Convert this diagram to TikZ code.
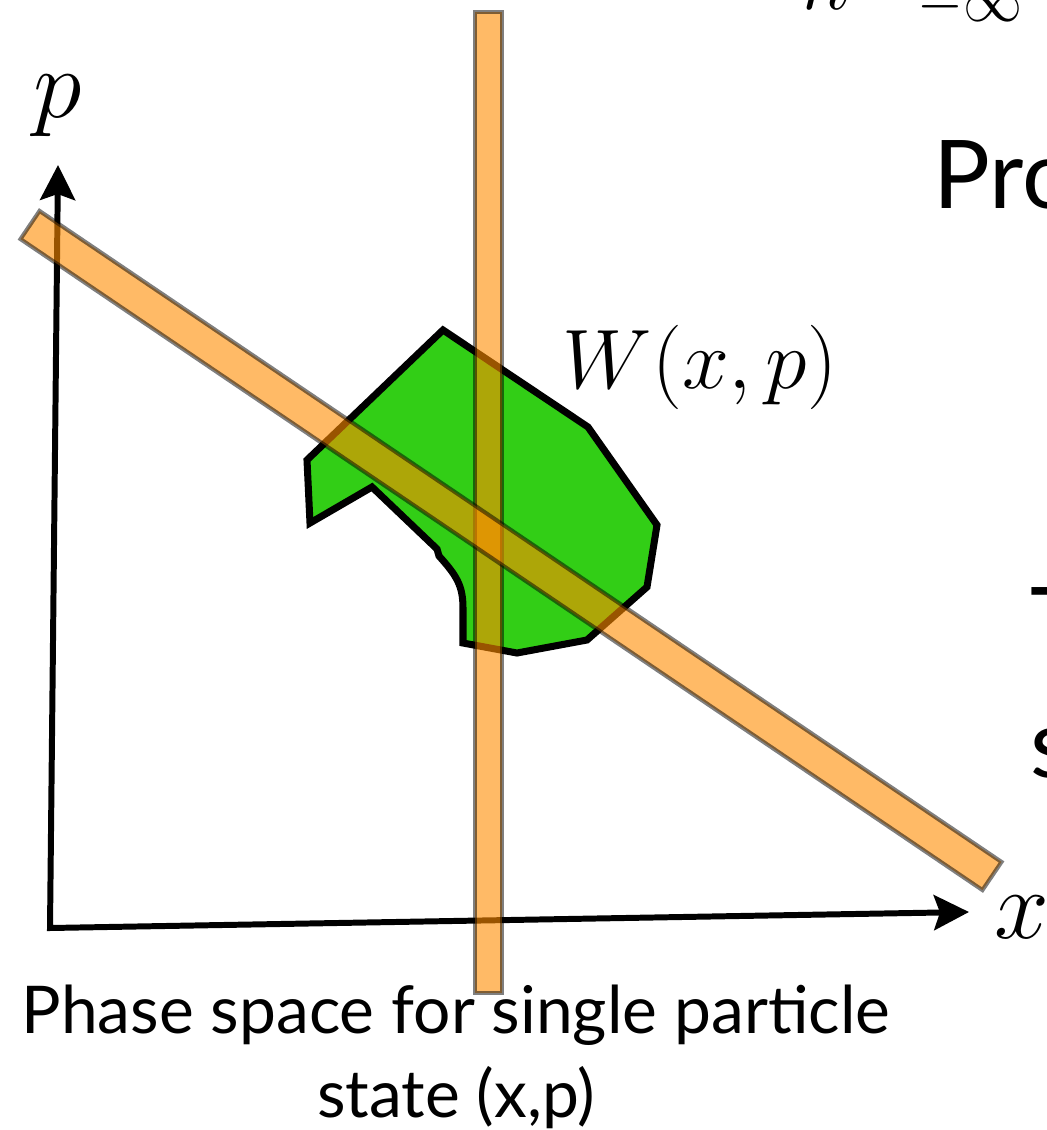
\RequirePackage{fix-cm}
\documentclass[tikz,border=0pt]{standalone}
\usepackage{fontspec}
\setmainfont{Lato}
\usepackage{xcolor}
\definecolor{blobGreen}{RGB}{50, 206, 22}
\definecolor{bandOrange}{RGB}{255, 140, 0}
\usetikzlibrary{arrows.meta, calc}
\tikzset{
    axis/.style={line width=3.4pt, {Stealth[length=0.7cm, width=0.7cm, inset=0.12cm]}-{Stealth[length=0.7cm, width=0.7cm, inset=0.12cm]}},
    band/.style={fill=bandOrange, fill opacity=0.6, draw=black, draw opacity=0.5, line width=2.3pt},
    blob/.style={fill=blobGreen, draw=black, line width=4pt},
    axisLabel/.style={inner sep=0pt, font=\fontsize{56}{60}\selectfont},
    mathLabel/.style={inner sep=0pt, font=\fontsize{48}{52}\selectfont},
    slideText/.style={inner sep=0pt, anchor=base west, font=\fontsize{54}{60}\selectfont},
    caption/.style={inner sep=0pt, anchor=base, font=\fontsize{37.5}{44}\selectfont}
}

\begin{document}
\begin{tikzpicture}[x=0.02cm, y=-0.02cm]
    \useasboundingbox (0,0) rectangle (1047,1130);
    \clip (0,0) rectangle (1047,1130);

    % --- WIGNER FUNCTION ---
    \draw[blob] (443,330) -- (588,427) -- (657,525) -- (647,587) -- (587,640) -- (517,653)
        -- (463,643) -- (463,608) .. controls (463,585) and (456,575) .. (439,556)
        -- (437,549) -- (372,487) -- (310,523) -- (307,460) -- cycle;
    \node[mathLabel] (wLabel) at (700,367) {$W(x,p)$};

    % --- AXES ---
    \coordinate (origin) at (50,928);
    \coordinate (pTip) at (58,165);
    \coordinate (xTip) at (969,912);
    \draw[axis] (pTip) -- (origin) -- (xTip);
    \node[axisLabel] (pLabel) at (58,106) {$p$};
    \node[axisLabel] (xLabel) at (1022,917) {$x$};

    % --- PROJECTION BANDS ---
    \draw[band] (475,12) rectangle (502,993);
    \coordinate (bandA) at (30,225);
    \coordinate (bandB) at (992,876);
    \draw[band] ($(bandA)!0.34cm!90:(bandB)$) -- ($(bandA)!0.34cm!-90:(bandB)$)
        -- ($(bandB)!0.34cm!90:(bandA)$) -- ($(bandB)!0.34cm!-90:(bandA)$) -- cycle;

    % --- SLIDE TEXT (cut at the edge) ---
    \node[mathLabel, anchor=south east] (integral) at (1024,27) {$\hbar\hspace{0.9cm}\int_{-\infty}$};
    \node[slideText] (proText) at (933,208) {Pro};
    \node[slideText] (tText) at (1030,655) {T};
    \node[slideText] (sText) at (1030,777) {s};

    % --- CAPTION ---
    \node[caption] (captionTop) at (456,1033) {Phase space for single particle};
    \node[caption] (captionBottom) at (456,1117) {state (x,p)};
\end{tikzpicture}
\end{document}
